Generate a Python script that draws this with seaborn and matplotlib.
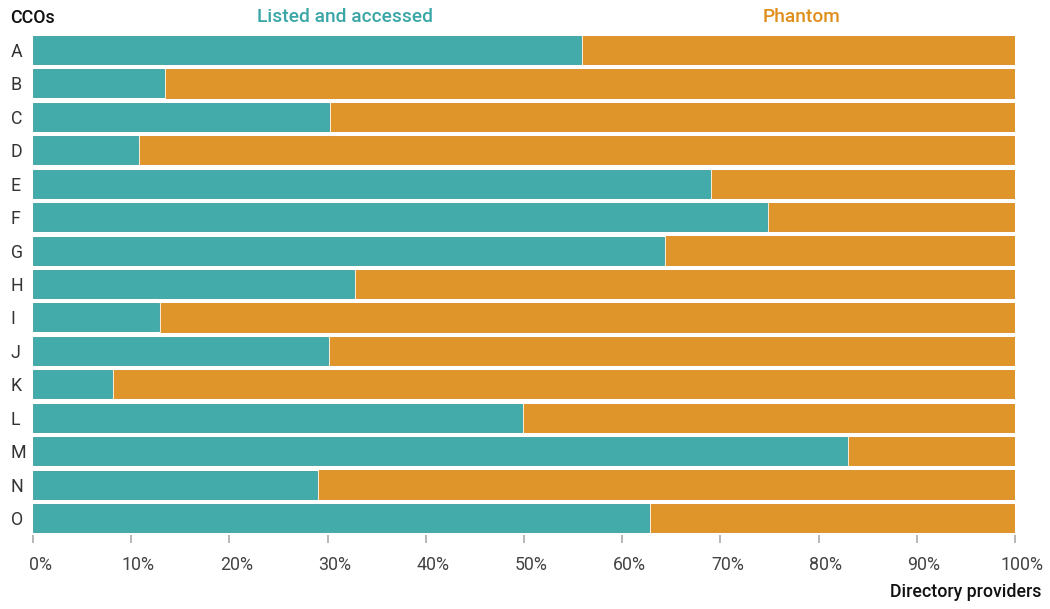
import matplotlib
matplotlib.use("Agg")
import matplotlib.pyplot as plt
import matplotlib.transforms as mtransforms
import seaborn as sns
import pandas as pd

categories = ["A", "B", "C", "D", "E", "F", "G", "H", "I", "J", "K", "L", "M", "N", "O"]
listed = [55.8, 13.3, 30.1, 10.7, 68.9, 74.7, 64.3, 32.7, 12.8, 30.0, 8.0, 49.8, 82.9, 28.9, 62.7]
phantom = [100 - v for v in listed]
xticks = [0, 10, 20, 30, 40, 50, 60, 70, 80, 90, 100]
xtick_labels = [f"{t}%" for t in xticks]

TEAL = "#44abab"
ORANGE = "#e0952a"

sns.set_theme(style="white")
plt.rcParams["font.family"] = ["Roboto", "DejaVu Sans"]

df = pd.DataFrame({"cco": categories, "listed": listed,
                   "total": [l + p for l, p in zip(listed, phantom)]})

fig = plt.figure(figsize=(10.5, 6.09), dpi=100)
ax = fig.add_axes([33 / 1050, 1 - 534.7 / 609, (1015 - 33) / 1050, (534.7 - 33.3) / 609])

sns.barplot(data=df, y="cco", x="total", orient="h", color=ORANGE, saturation=1,
            width=0.85, edgecolor="#d98c1f", linewidth=0.6, ax=ax)
sns.barplot(data=df, y="cco", x="listed", orient="h", color=TEAL, saturation=1,
            width=0.85, edgecolor="white", linewidth=2.6, ax=ax)
# inner darker edge for teal segments
sns.barplot(data=df, y="cco", x="listed", orient="h", color=TEAL, saturation=1,
            width=0.84, edgecolor="#3c9f9f", linewidth=0.6, ax=ax)

ax.set_xlim(0, 100)
ax.set_ylim(len(categories) - 0.5, -0.5)
ax.set_xlabel("")
ax.set_ylabel("")
for s in ax.spines.values():
    s.set_visible(False)

ax.set_xticks(xticks)
ax.set_xticklabels(xtick_labels, fontsize=12.8, color="#444444")
ax.tick_params(axis="x", which="major", bottom=True, length=6, width=1.2,
               color="#aaaaaa", pad=9, direction="out")
offset = mtransforms.ScaledTranslation(7 / 100, 0, fig.dpi_scale_trans)
for lab in ax.get_xticklabels():
    lab.set_transform(lab.get_transform() + offset)

ax.set_yticks(range(len(categories)))
ax.set_yticklabels(categories, fontsize=12.8, color="#333333")
ax.tick_params(axis="y", length=0, pad=16)
for lab in ax.get_yticklabels():
    lab.set_horizontalalignment("left")

fig.text(10 / 1050, 1 - 18 / 609, "CCOs", fontsize=12.8, fontweight="medium",
         color="#111111", ha="left", va="center")
fig.text(345 / 1050, 1 - 17 / 609, "Listed and accessed", fontsize=13.8,
         fontweight="medium", color="#3aa6a6", ha="center", va="center")
fig.text(802 / 1050, 1 - 17 / 609, "Phantom", fontsize=13.8,
         fontweight="medium", color="#e08f1c", ha="center", va="center")
fig.text(1041 / 1050, 1 - 592 / 609, "Directory providers", fontsize=12.8,
         fontweight="medium", color="#111111", ha="right", va="center")

fig.savefig("out.png", dpi=100)
